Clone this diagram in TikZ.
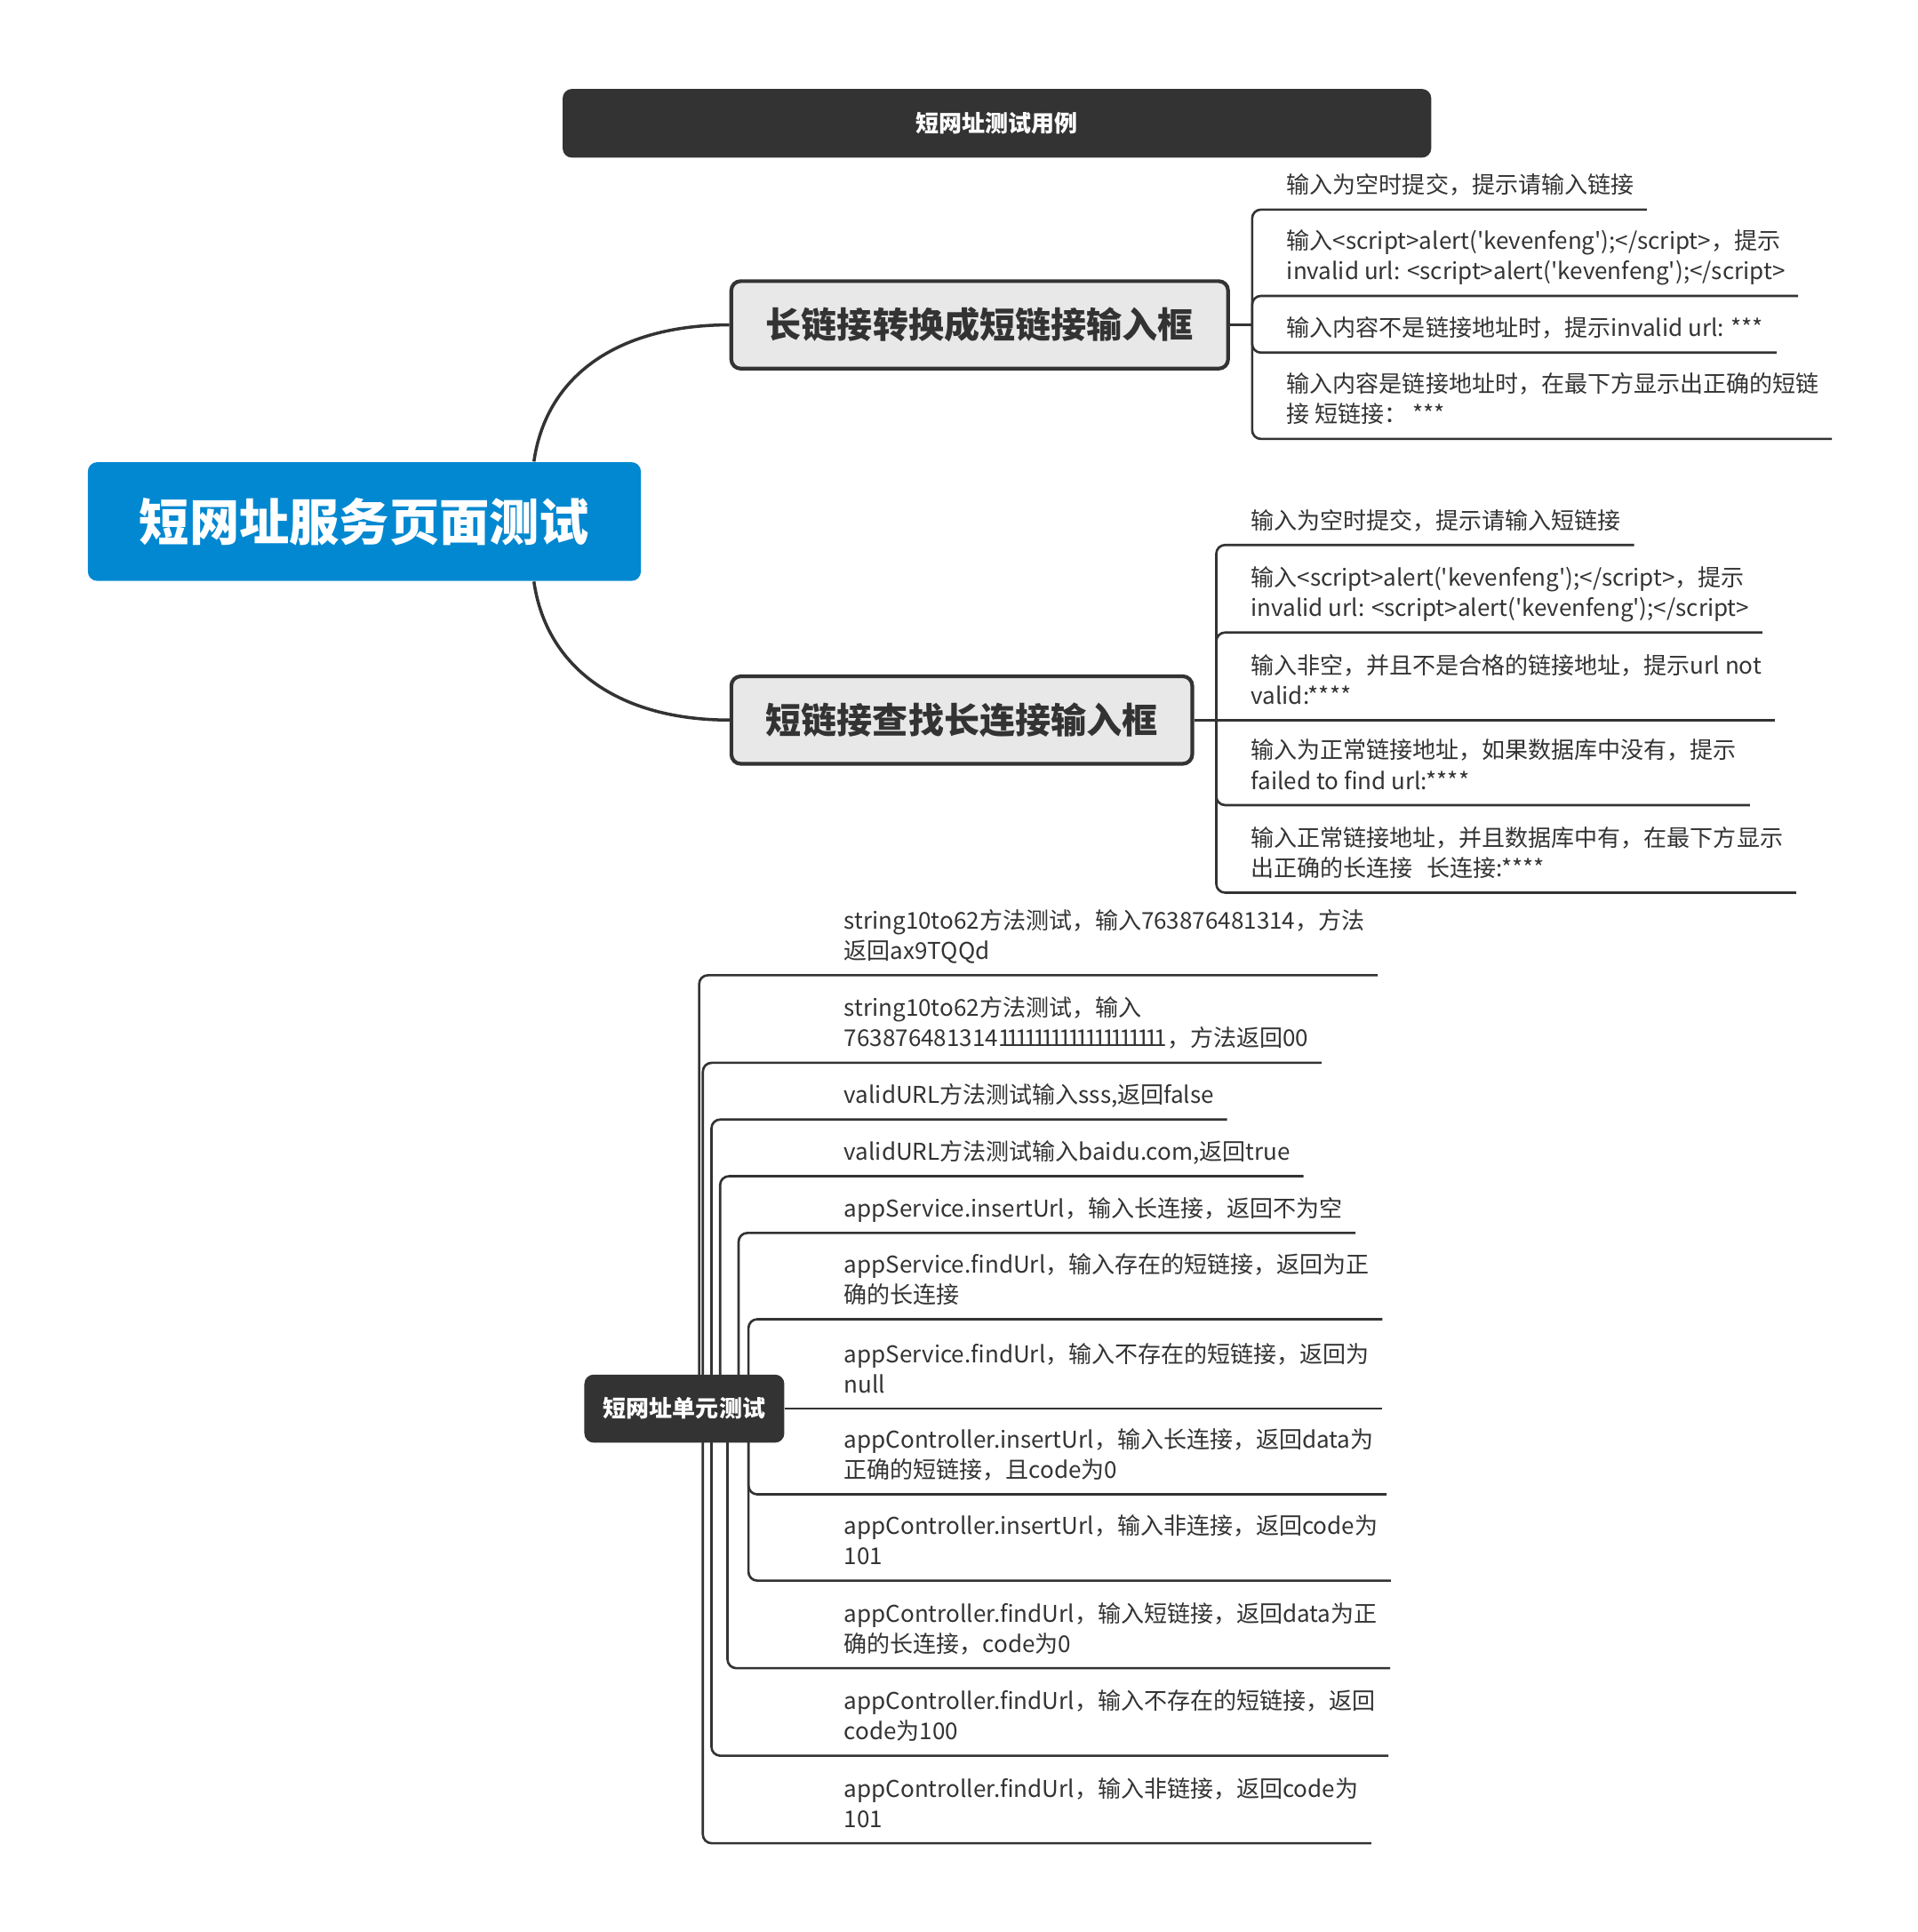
\documentclass[tikz,border=0pt]{standalone}
\usepackage{fontspec}
\setmainfont{Noto Sans CJK SC}[Numbers=Proportional]
\usetikzlibrary{positioning, backgrounds}
\definecolor{mapdark}{HTML}{333333}
\definecolor{mapblue}{HTML}{0288D1}
\definecolor{mapgray}{HTML}{E8E8E8}
\newcommand{\apos}{\textquotesingle}
\newcommand{\tightdigits}[1]{{\addfontfeatures{LetterSpace=-18}#1}}

\begin{document}
\begin{tikzpicture}[x=0.013874cm, y=-0.013874cm]
      \tikzstyle{leaf}=[anchor=south west, align=left, inner xsep=4pt, inner ysep=3.1pt, text=mapdark,
                        font=\fontsize{7.4pt}{9.7pt}\selectfont, execute at end node={\rule[-1.8pt]{0pt}{1.8pt}}]
      \tikzstyle{branch}=[draw=mapdark, line width=1.2pt, fill=mapgray, rounded corners=3pt, text=mapdark,
                          minimum height=28pt, font=\fontsize{11.4pt}{13pt}\selectfont\bfseries]
      \tikzstyle{dark box}=[fill=mapdark, text=white, rounded corners=3pt, font=\fontsize{7.4pt}{9pt}\selectfont\bfseries]
      \tikzstyle{conn}=[draw=mapdark, line width=0.75pt, rounded corners=2.8pt]
      \tikzstyle{main conn}=[draw=mapdark, line width=1pt]

      \useasboundingbox (0,0) rectangle (1555.4,1567);

      % Nodes
      \node[dark box, minimum width=278pt, minimum height=22pt] (title) at (808.5,100) {短网址测试用例};
      \node[fill=mapblue, text=white, rounded corners=3pt, minimum width=177pt, minimum height=38pt,
            font=\fontsize{16pt}{18pt}\selectfont\bfseries] (root) at (295.5,423) {短网址服务页面测试};
      \node[branch, minimum width=159pt]   (b1) at (794.5,263.5) {长链接转换成短链接输入框};
      \node[branch, minimum width=147.5pt] (b2) at (780,584) {短链接查找长连接输入框};
      \node[dark box, minimum width=64pt, minimum height=21.8pt] (unit) at (555,1142.5) {短网址单元测试};

      \node[leaf] (l11) at (1033,170) {输入为空时提交，提示请输入链接};
      \node[leaf] (l12) at (1033,240) {输入<script>alert(\apos kevenfeng\apos);</script>，提示\\invalid url: <script>alert(\apos kevenfeng\apos);</script>};
      \node[leaf] (l13) at (1033,286) {输入内容不是链接地址时，提示invalid url: ***};
      \node[leaf] (l14) at (1033,356) {输入内容是链接地址时，在最下方显示出正确的短链\\接 短链接： ***};

      \node[leaf] (l21) at (1004,442) {输入为空时提交，提示请输入短链接};
      \node[leaf] (l22) at (1004,513) {输入<script>alert(\apos kevenfeng\apos);</script>，提示\\invalid url: <script>alert(\apos kevenfeng\apos);</script>};
      \node[leaf] (l23) at (1004,584) {输入非空，并且不是合格的链接地址，提示url not\\valid:****};
      \node[leaf] (l24) at (1004,653) {输入为正常链接地址，如果数据库中没有，提示\\failed to find url:****};
      \node[leaf] (l25) at (1004,724) {输入正常链接地址，并且数据库中有，在最下方显示\\出正确的长连接\hspace{0.6em}长连接:****};

      \node[leaf] (u1)  at (674,791)    {string10to62方法测试，输入763876481314，方法\\返回ax9TQQd};
      \node[leaf] (u2)  at (674,862)    {string10to62方法测试，输入\\763876481314\tightdigits{1111111111111111111}，方法返回00};
      \node[leaf] (u3)  at (674,908)    {validURL方法测试输入sss,返回false};
      \node[leaf] (u4)  at (674,954)    {validURL方法测试输入baidu.com,返回true};
      \node[leaf] (u5)  at (674,1000)   {appService.insertUrl，输入长连接，返回不为空};
      \node[leaf] (u6)  at (674,1070)   {appService.findUrl，输入存在的短链接，返回为正\\确的长连接};
      \node[leaf] (u7)  at (674,1142.5) {appService.findUrl，输入不存在的短链接，返回为\\null};
      \node[leaf] (u8)  at (674,1212)   {appController.insertUrl，输入长连接，返回data为\\正确的短链接，且code为0};
      \node[leaf] (u9)  at (674,1282)   {appController.insertUrl，输入非连接，返回code为\\101};
      \node[leaf] (u10) at (674,1353)   {appController.findUrl，输入短链接，返回data为正\\确的长连接，code为0};
      \node[leaf] (u11) at (674,1424)   {appController.findUrl，输入不存在的短链接，返回\\code为100};
      \node[leaf] (u12) at (674,1495)   {appController.findUrl，输入非链接，返回code为\\101};

      % Edges
      \begin{pgfonlayer}{background}
        \draw[main conn] (root.north) ++(137.5,0) .. controls +(10,-70) and +(-90,0) .. (b1.west);
        \draw[main conn] (root.south) ++(137.5,0) .. controls +(10,70) and +(-90,0) .. (b2.west);

        \draw[conn] (b1.east) -- ++(18,0) coordinate (j1);
        \foreach \n in {11,12,13,14}
          \draw[conn] (j1) |- (l\n.south west) -- (l\n.south east);

        \draw[conn] (b2.east) -- ++(18,0) coordinate (j2) -- (l23.south west) -- (l23.south east);
        \foreach \n in {21,22,24,25}
          \draw[conn] (j2) |- (l\n.south west) -- (l\n.south east);

        \draw[conn] (unit.east) -- (u7.south west) -- (u7.south east);
        \foreach \n/\dx in {1/12, 2/15, 3/22, 4/29, 5/44, 6/52, 8/52, 9/52, 10/35, 11/22, 12/15}
          \draw[conn] (unit.center) ++(\dx,0) |- (u\n.south west) -- (u\n.south east);
      \end{pgfonlayer}
\end{tikzpicture}
\end{document}
